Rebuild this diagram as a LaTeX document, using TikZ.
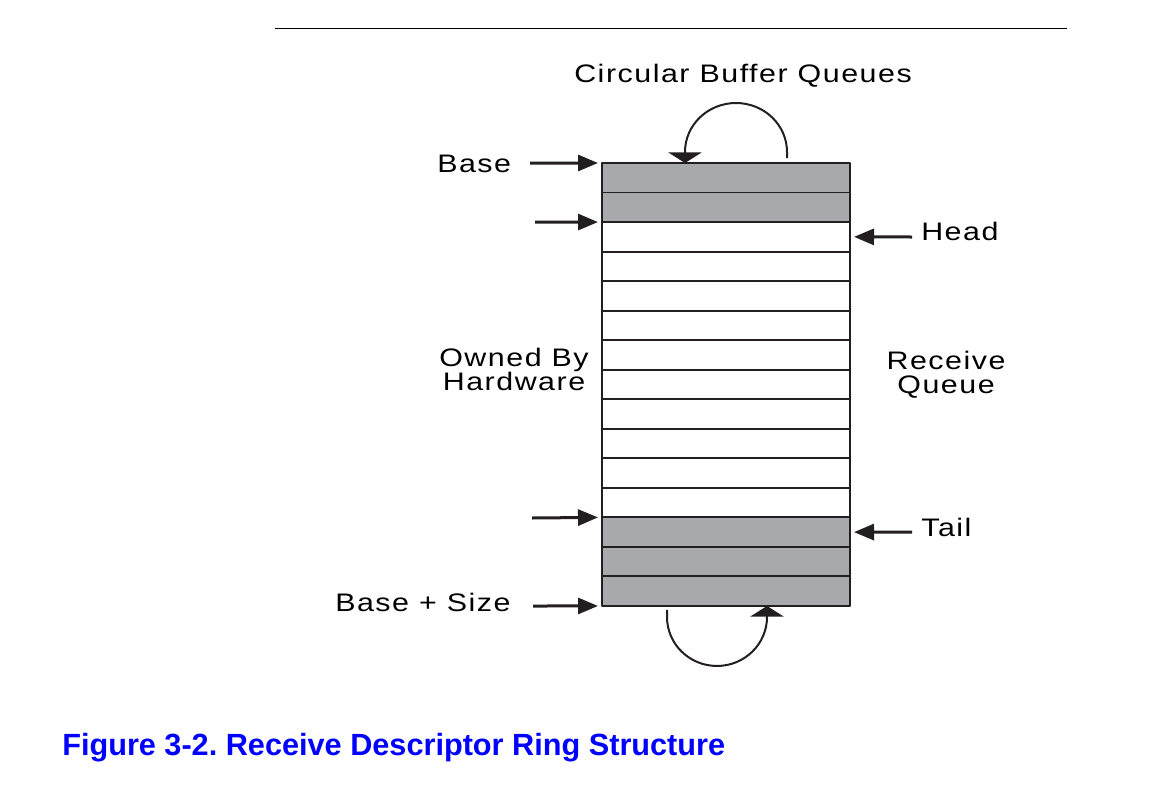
\documentclass[tikz,border=0pt]{standalone}
\usepackage{fontspec}
\usepackage{tikz}
\usetikzlibrary{calc}
\usetikzlibrary{arrows.meta}
\newfontfamily\lblfont[FakeStretch=1.2,LetterSpace=6]{Liberation Sans}
\newfontfamily\capfont{Liberation Sans}
\definecolor{slotgrey}{RGB}{167,169,172}
\definecolor{inkdark}{RGB}{35,31,32}
\definecolor{capblue}{RGB}{0,0,255}
\tikzstyle{every node}=[font=\lblfont\fontsize{19}{18}\selectfont,inner sep=0pt]
\tikzstyle{every path}=[line join=round]
\tikzstyle{slotbox}=[draw=inkdark,line width=1.4pt,minimum width=186pt,minimum height=22.15pt,inner sep=0pt,outer sep=0pt]
\newcommand{\ringslot}[3]{
	\node[slotbox,fill=#3] at (726,{163+29.53*(#2+0.5)}) (#1) {};
}

\begin{document}
\begin{tikzpicture}[x=0.75pt,y=-0.75pt]
		\tikzstyle{ptrarrow} = [draw=inkdark,line width=2.25pt,-{Triangle[length=15pt, width=12pt]},shorten >=3pt]
		\tikzstyle{wraparrow} = [draw=inkdark,line width=1.5pt,-{Triangle[length=8pt, width=25pt]}]
		
		\useasboundingbox (0,0) rectangle (1153,786);
		\draw[line width=0.75pt] (275,28) -- (1067,28);
		
		% descriptor ring
		\ringslot{r0}{0}{slotgrey}
		\ringslot{r1}{1}{slotgrey}
		\ringslot{r2}{2}{white}
		\ringslot{r3}{3}{white}
		\ringslot{r4}{4}{white}
		\ringslot{r5}{5}{white}
		\ringslot{r6}{6}{white}
		\ringslot{r7}{7}{white}
		\ringslot{r8}{8}{white}
		\ringslot{r9}{9}{white}
		\ringslot{r10}{10}{white}
		\ringslot{r11}{11}{white}
		\ringslot{r12}{12}{slotgrey}
		\ringslot{r13}{13}{slotgrey}
		\ringslot{r14}{14}{slotgrey}
		
		% labels
		\node[anchor=base west] at (574,82) (title) {Circular Buffer Queues};
		\node[anchor=base west] at (437,172) (base) {Base};
		\node[anchor=base west] at (335,611) (basesize) {Base + Size};
		\node[anchor=base west] at (921,240) (head) {Head};
		\node[anchor=base west] at (921,536) (tail) {Tail};
		\node[anchor=base,align=center] at (514,390) (owned) {Owned By\\Hardware};
		\node[anchor=base,align=center] at (946,393) (rxq) {Receive\\Queue};
		
		% pointers
		\coordinate (base_in) at (530,163);
		\coordinate (hw_in) at (535,222);
		\coordinate (sw_in) at (532,518);
		\coordinate (end_in) at (533,606);
		\coordinate (head_in) at (912,237);
		\coordinate (tail_in) at (912,532);
		\draw[ptrarrow] (base_in) -- (r0.north west);
		\draw[ptrarrow] (hw_in) -- (r2.north west);
		\draw[ptrarrow] (sw_in) -- (r12.north west);
		\draw[ptrarrow] (end_in) -- (r14.south west);
		\draw[ptrarrow] (head_in) -- (r2.east);
		\draw[ptrarrow] (tail_in) -- (r12.east);
		
		% wrap around
		\draw[wraparrow] ($(r0.north west)+(185,-5)$) -- ++(0,-6) arc[start angle=0, end angle=180, x radius=38.25pt, y radius=36.75pt] -- ($(r0.north west)+(83,0)$);
		\draw[wraparrow] ($(r14.south west)+(65,4)$) -- ++(0,7) arc[start angle=180, end angle=360, x radius=37.5pt, y radius=36.75pt] -- ($(r14.south west)+(165,0)$);
		
		\node[anchor=base west,font=\capfont\bfseries\fontsize{23}{27}\selectfont\frenchspacing,text=capblue] at (62,755) (caption) {Figure 3-2. Receive Descriptor Ring Structure};
		
	\end{tikzpicture}
\end{document}
